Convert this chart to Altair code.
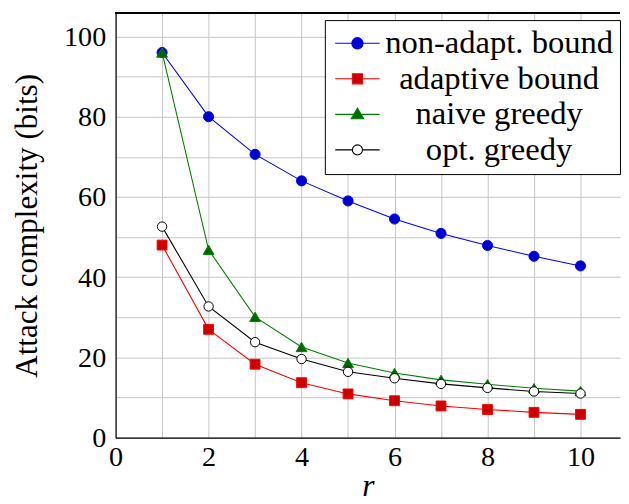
import altair as alt
import pandas as pd

# ---- data ----
r_values = [1, 2, 3, 4, 5, 6, 7, 8, 9, 10]
series_names = ["non-adapt. bound", "adaptive bound", "naive greedy", "opt. greedy"]
non_adapt_bound = [96.0, 80.0, 70.6, 64.0, 59.0, 54.5, 50.9, 47.9, 45.2, 42.8]
adaptive_bound = [48.0, 27.0, 18.3, 13.7, 10.9, 9.2, 7.9, 7.0, 6.3, 5.8]
naive_greedy = [96.0, 46.8, 30.1, 22.6, 18.6, 16.1, 14.4, 13.3, 12.3, 11.6]
opt_greedy = [52.6, 32.7, 23.8, 19.6, 16.4, 14.8, 13.4, 12.4, 11.5, 11.0]
x_tick_values = [0, 1, 2, 3, 4, 5, 6, 7, 8, 9, 10]
y_tick_values = [0, 10, 20, 30, 40, 50, 60, 70, 80, 90, 100]

# ---- styles ----
line_colors = ["#0000ff", "#ff0000", "#008000", "#000000"]
mark_fills = ["#0000cc", "#cc0000", "#006600", "#ffffff"]
mark_shapes = ["circle", "square", "triangle-up", "circle"]
mark_sizes = [105, 100, 120, 90]
legend_paths = [
    "M-3.75,0H-0.95M0.95,0H3.75M-0.95,0A0.95,0.95,0,1,0,0.95,0A0.95,0.95,0,1,0,-0.95,0Z",
    "M-3.75,0H-0.85M0.85,0H3.75M-0.85,-0.85H0.85V0.85H-0.85Z",
    "M-3.75,0H-0.6M0.6,0H3.75M0,-1.05L1.05,0.75H-1.05Z",
    "M-3.75,0H-0.85M0.85,0H3.75M-0.85,0A0.85,0.85,0,1,0,0.85,0A0.85,0.85,0,1,0,-0.85,0Z",
]

rows = []
for name, vals in zip(series_names, [non_adapt_bound, adaptive_bound, naive_greedy, opt_greedy]):
    for rv, v in zip(r_values, vals):
        rows.append({"r": rv, "bits": v, "series": name})
df = pd.DataFrame(rows)

FONT = "Liberation Serif, DejaVu Serif, serif"

x_scale = alt.Scale(domain=[0, 10.85], nice=False, zero=False)
y_scale = alt.Scale(domain=[0, 105.8], nice=False, zero=False)

x_axis = alt.Axis(
    orient="bottom", values=x_tick_values,
    labelExpr="datum.value % 2 == 0 ? datum.label : ''",
    grid=True, gridColor="#c4c4c4", gridWidth=1,
    ticks=False, domain=True, domainColor="#000000", domainWidth=1.2,
    labelFont=FONT, labelFontSize=28.5, labelColor="#000000", labelPadding=5,
    labelFlush=False, labelOverlap=False,
    title="r", titleFont=FONT, titleFontStyle="italic", titleFontWeight="normal",
    titleFontSize=32, titleColor="#000000", titlePadding=0,
)
y_axis = alt.Axis(
    orient="left", values=y_tick_values,
    labelExpr="datum.value % 20 == 0 ? datum.label : ''",
    grid=True, gridColor="#c4c4c4", gridWidth=1,
    ticks=False, domain=True, domainColor="#000000", domainWidth=1.2,
    labelFont=FONT, labelFontSize=28.5, labelColor="#000000", labelPadding=10,
    labelFlush=False, labelOverlap=False,
    title="Attack complexity (bits)", titleFont=FONT, titleFontWeight="normal",
    titleFontSize=31.5, titleColor="#000000", titlePadding=20,
)

X = alt.X("r:Q", scale=x_scale, axis=x_axis)
Y = alt.Y("bits:Q", scale=y_scale, axis=y_axis)

base = alt.Chart(df)

# top frame line of the plot area (style element, not data)
frame_top = base.mark_rule(color="#000000", strokeWidth=1.2).encode(
    x=alt.value(0), x2=alt.value(511), y=alt.value(0)
)

layers = []
for i, name in enumerate(series_names):
    sub = base.transform_filter(alt.datum.series == name)
    line = sub.mark_line(color=line_colors[i], strokeWidth=1.1).encode(x=X, y=Y)
    pts = sub.mark_point(
        filled=True, shape=mark_shapes[i], size=mark_sizes[i],
        fill=mark_fills[i], stroke=line_colors[i], strokeWidth=1, opacity=1, fillOpacity=1,
    ).encode(x=X, y=Y)
    layers += [line, pts]

leg_props = dict(
    title=None, orient="none", legendX=212, legendY=7,
    padding=7, fillColor="white", strokeColor="black", cornerRadius=0,
    symbolSize=144, symbolStrokeWidth=1.1, symbolOpacity=1, symbolOffset=9.5,
    labelFont=FONT, labelFontSize=33, labelColor="#000000",
    labelAlign="center", labelOffset=127, labelLimit=400, rowPadding=2,
)

legend_layer = base.mark_point(opacity=0, filled=True).encode(
    x=X, y=Y,
    shape=alt.Shape("series:N", scale=alt.Scale(domain=series_names, range=legend_paths),
                    legend=alt.Legend(**leg_props)),
    fill=alt.Fill("series:N", scale=alt.Scale(domain=series_names, range=mark_fills),
                  legend=alt.Legend(**leg_props)),
    stroke=alt.Stroke("series:N", scale=alt.Scale(domain=series_names, range=line_colors),
                      legend=alt.Legend(**leg_props)),
)

chart = alt.layer(*layers, legend_layer, frame_top).properties(
    width=511, height=430,
    padding={"left": 4, "top": 1, "right": 0, "bottom": 0},
    background="white",
).configure_view(stroke=None)

chart.save("out.html", embed_options={"renderer": "svg", "actions": False})
